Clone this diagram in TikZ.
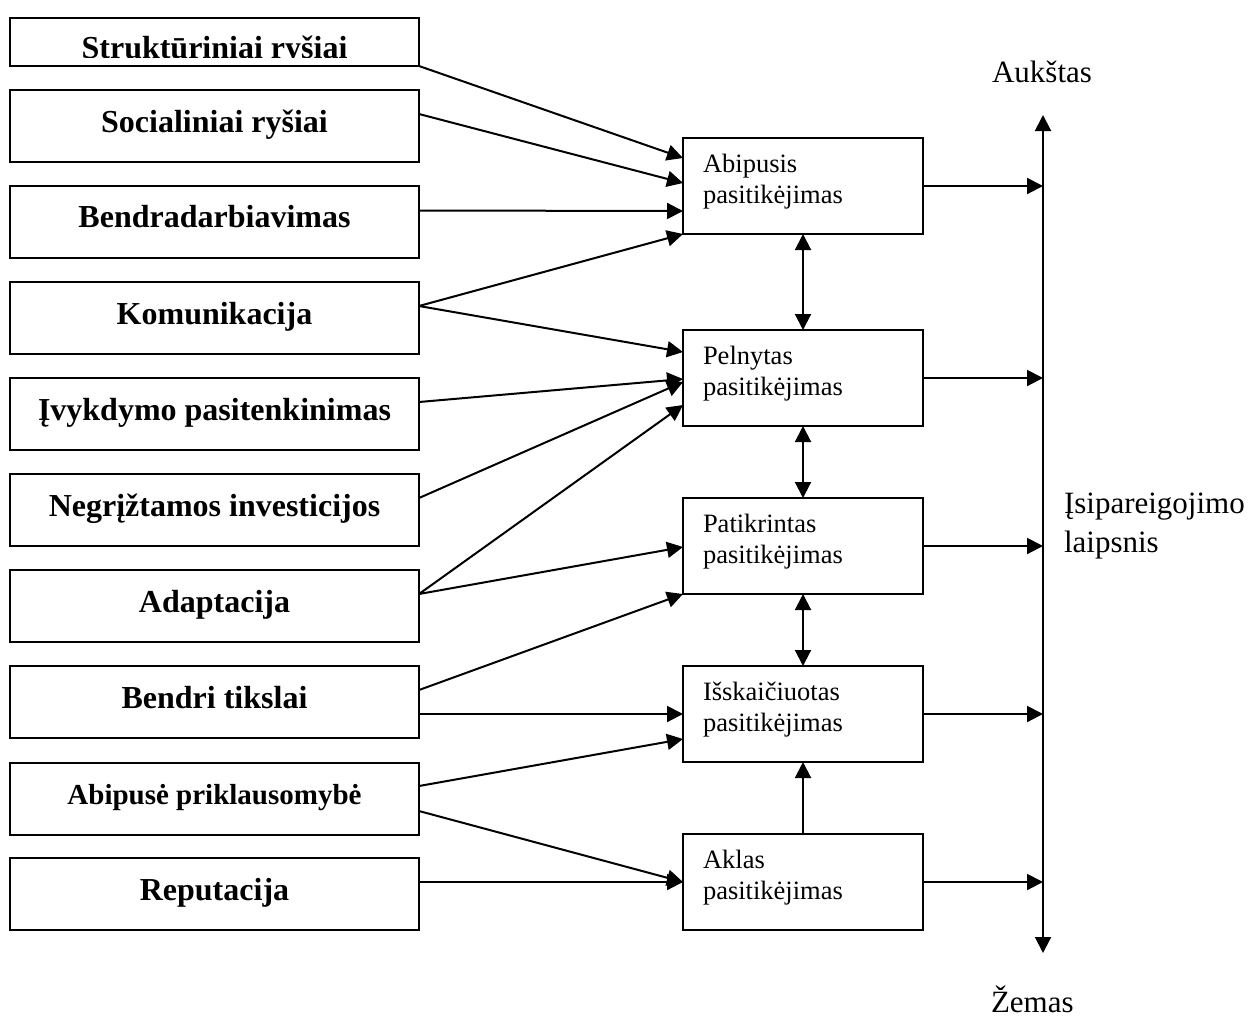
\documentclass[tikz,border=0pt]{standalone}
\usepackage{fontspec}
\setmainfont{Liberation Serif}
\usetikzlibrary{arrows.meta,calc}

\begin{document}
\begin{tikzpicture}[
  x=0.5pt, y=-0.5pt,
  line width=1pt,
  tip/.tip={Triangle[length=8pt,width=8pt]},
  conn/.style={-tip},
  both/.style={tip-tip},
  factor/.style={draw, inner sep=0pt, outer sep=0pt,
    minimum width=204.5pt, minimum height=36pt,
    font=\fontsize{16}{19}\selectfont\bfseries,
    text height=10pt, text depth=4pt},
  level/.style={draw, inner sep=0pt, outer sep=0pt,
    minimum width=120pt, minimum height=48pt,
    text width=100pt, align=left,
    font=\fontsize{13.25}{15.5}\selectfont,
    text height=9pt, text depth=23pt},
  axislabel/.style={inner sep=0pt, font=\fontsize{15.5}{19.5}\selectfont}
]
\useasboundingbox (0,0) rectangle (1251,1019);

% factors (left column)
\node[factor, minimum height=24pt] (l1) at (214.5,42) {};
\begin{scope}
  \clip (10,18) rectangle (419,57);
  \node[anchor=base, inner sep=0pt, font=\fontsize{16}{19}\selectfont\bfseries]
    (l1t) at (214.5,58) {Struktūriniai ryšiai};
\end{scope}
\node[factor] (l2)  at (214.5,126)   {Socialiniai ryšiai};
\node[factor] (l3)  at (214.5,221.5) {Bendradarbiavimas};
\node[factor] (l4)  at (214.5,318)   {Komunikacija};
\node[factor] (l5)  at (214.5,414)   {Įvykdymo pasitenkinimas};
\node[factor] (l6)  at (214.5,510)   {Negrįžtamos investicijos};
\node[factor] (l7)  at (214.5,606)   {Adaptacija};
\node[factor] (l8)  at (214.5,702)   {Bendri tikslai};
\node[factor, font=\fontsize{14.5}{17}\selectfont\bfseries]
              (l9)  at (214.5,798.5) {Abipusė priklausomybė};
\node[factor] (l10) at (214.5,894)   {Reputacija};

% trust levels (middle column)
\node[level] (m1) at (803,186) {Abipusis\\pasitikėjimas};
\node[level] (m2) at (803,378) {Pelnytas\\pasitikėjimas};
\node[level] (m3) at (803,546) {Patikrintas\\pasitikėjimas};
\node[level] (m4) at (803,714) {Išskaičiuotas\\pasitikėjimas};
\node[level] (m5) at (803,882) {Aklas\\pasitikėjimas};

% commitment scale
\coordinate (axtop) at (1043,115);
\coordinate (axbot) at (1043,953);
\draw[both] (axbot) -- (axtop);
\node[axislabel, anchor=base] (hi) at (1042,82) {Aukštas};
\node[axislabel, anchor=base west] (lo) at (990,1012) {Žemas};
\node[axislabel, anchor=base west, text width=100pt, align=left]
  (scale) at (1063,513) {Įsipareigojimo\\laipsnis};

% factors -> trust levels
\draw[conn] (l1.south east) -- ($(m1.west)+(0,-28)$);
\draw[conn] ($(l2.east)+(0,-12)$) -- ($(m1.west)+(0,-3)$);
\draw[conn] ($(l3.east)+(0,-11)$) -- ($(m1.west)+(0,25)$);
\draw[conn] ($(l4.east)+(0,-12)$) -- (m1.south west);
\draw[conn] ($(l4.east)+(0,-12)$) -- ($(m2.west)+(0,-26)$);
\draw[conn] ($(l5.east)+(0,-12)$) -- ($(m2.west)+(0,1)$);
\draw[conn] ($(l6.east)+(0,-12)$) -- ($(m2.west)+(0,4)$);
\draw[conn] ($(l7.east)+(0,-12)$) -- ($(m2.west)+(0,27)$);
\draw[conn] ($(l7.east)+(0,-12)$) -- ($(m3.west)+(0,1)$);
\draw[conn] ($(l8.east)+(0,-12)$) -- (m3.south west);
\draw[conn] ($(l8.east)+(0,12)$) -- (m4.west);
\draw[conn] ($(l9.east)+(0,-12.5)$) -- ($(m4.west)+(0,25)$);
\draw[conn] ($(l9.east)+(0,12.5)$) -- (m5.west);
\draw[conn] ($(l10.east)+(0,-12)$) -- (m5.west);

% links between trust levels
\draw[both] (m1.south) -- (m2.north);
\draw[both] (m2.south) -- (m3.north);
\draw[both] (m3.south) -- (m4.north);
\draw[conn] (m5.north) -- (m4.south);

% trust levels -> scale
\foreach \m in {m1,m2,m3,m4,m5}
  \draw[conn] (\m.east) -- (\m.east -| axtop);
\end{tikzpicture}
\end{document}
